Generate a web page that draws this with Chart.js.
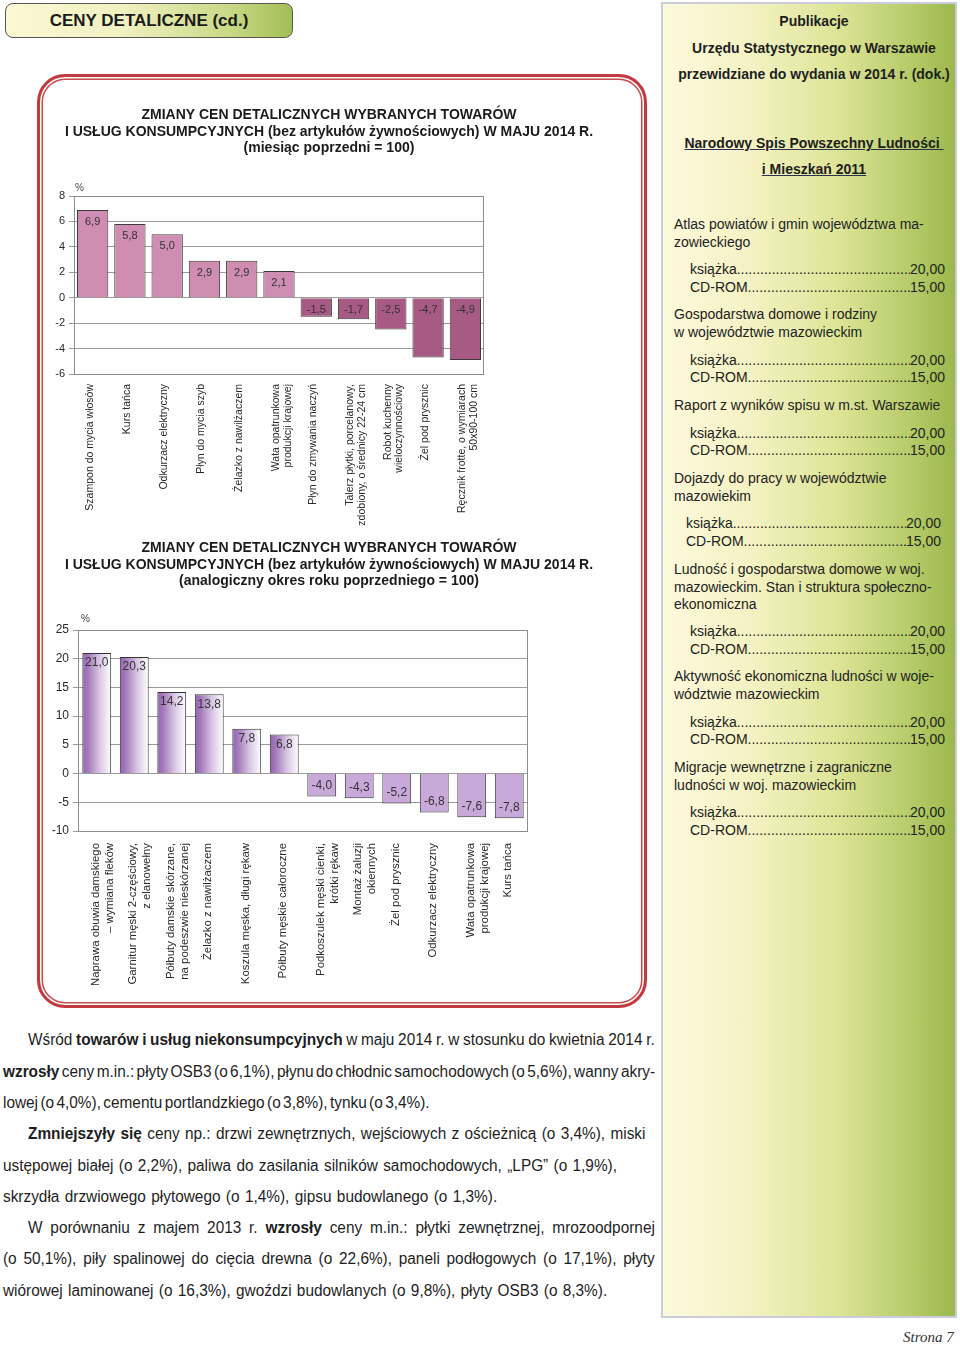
<!DOCTYPE html>
<html lang="pl">
<head>
<meta charset="utf-8">
<title>Ceny detaliczne (cd.)</title>
<script src="https://cdn.jsdelivr.net/npm/chart.js@4.4.1/dist/chart.umd.min.js"></script>
<style>
  html, body { margin: 0; padding: 0; }
  body {
    width: 960px; height: 1345px; position: relative; overflow: hidden;
    background: #fff; color: #222;
    font-family: Arial, "Liberation Sans", sans-serif;
  }
  .naglowek {
    position: absolute; left: 5px; top: 3px; width: 286px; height: 33px;
    border: 1px solid #555; border-radius: 8px;
    background: linear-gradient(to right, #fbf8d4 0%, #f1f1c2 40%, #c9d986 78%, #a3be55 100%);
    font-weight: bold; font-size: 17px; line-height: 33px; text-align: center; color: #1b1b1b;
  }
  .ramka {
    position: absolute; left: 37px; top: 74px; width: 604px; height: 928px;
    border: 3px solid #c23a3e; border-radius: 28px;
    box-shadow: inset 0 0 0 1.5px #fff, inset 0 0 0 3px #c9494c;
  }
  canvas { position: absolute; }
  #wykres1 { left: 39px; top: 100px; }
  #wykres2 { left: 39px; top: 533px; }

  .panel {
    position: absolute; left: 661px; top: 2px; width: 292px; height: 1312px;
    border: 2px solid #c9cdd9;
    background: linear-gradient(to right, #fdf9dc 0%, #f4f2c3 30%, #dde496 60%, #b6cb69 85%, #9cb84c 100%);
  }
  .panel-tytul {
    position: absolute; left: 671px; width: 286px; text-align: center;
    font-weight: bold; font-size: 14px; line-height: 18px; color: #1e1e1e; white-space: nowrap;
  }
  .panel-tytul u { text-decoration-color: #2b3050; }
  .pozycja {
    position: absolute; left: 674px; font-size: 14px; line-height: 17.5px; color: #222; white-space: nowrap;
  }
  .cena {
    position: absolute; left: 690px; width: 255px; display: flex;
    font-size: 14px; line-height: 17.5px; color: #222; white-space: nowrap;
  }
  .cena .kropki { flex: 1; overflow: hidden; }
  .cena .kropki::before { content: "........................................................................................................"; }

  .akapit {
    position: absolute; height: 20px; line-height: 20px; white-space: nowrap;
    font-family: "Liberation Sans", Arial, sans-serif;
    font-size: 16px; color: #1e1e1e;
    transform-origin: 0 50%;
  }
  .strona {
    position: absolute; left: 903px; top: 1329px;
    font-family: "Liberation Serif", "DejaVu Serif", serif; font-style: italic; font-size: 15px; color: #333;
  }
</style>
</head>
<body>

<div class="naglowek">CENY DETALICZNE (cd.)</div>

<div class="ramka"></div>
<canvas id="wykres1" width="580" height="430"></canvas>
<canvas id="wykres2" width="580" height="462"></canvas>

<div class="panel"></div>
<div class="panel-tytul" style="top:12px">Publikacje</div>
<div class="panel-tytul" style="top:39px">Urzędu Statystycznego w Warszawie</div>
<div class="panel-tytul" style="top:65px">przewidziane do wydania w 2014 r. (dok.)</div>
<div class="panel-tytul" style="top:134px"><u>Narodowy Spis Powszechny Ludności&nbsp;</u></div>
<div class="panel-tytul" style="top:160px"><u>i Mieszkań 2011</u></div>

<div class="pozycja" style="top:216px">Atlas powiatów i gmin województwa ma-<br>zowieckiego</div>
<div class="cena" style="top:261px"><span>książka</span><span class="kropki"></span><span>20,00</span></div>
<div class="cena" style="top:279px"><span>CD-ROM</span><span class="kropki"></span><span>15,00</span></div>

<div class="pozycja" style="top:306px">Gospodarstwa domowe i rodziny<br>w województwie mazowieckim</div>
<div class="cena" style="top:352px"><span>książka</span><span class="kropki"></span><span>20,00</span></div>
<div class="cena" style="top:369px"><span>CD-ROM</span><span class="kropki"></span><span>15,00</span></div>

<div class="pozycja" style="top:397px">Raport z wyników spisu w m.st. Warszawie</div>
<div class="cena" style="top:425px"><span>książka</span><span class="kropki"></span><span>20,00</span></div>
<div class="cena" style="top:442px"><span>CD-ROM</span><span class="kropki"></span><span>15,00</span></div>

<div class="pozycja" style="top:470px">Dojazdy do pracy w województwie<br>mazowiekim</div>
<div class="cena" style="top:515px;left:686px"><span>książka</span><span class="kropki"></span><span>20,00</span></div>
<div class="cena" style="top:533px;left:686px"><span>CD-ROM</span><span class="kropki"></span><span>15,00</span></div>

<div class="pozycja" style="top:561px">Ludność i gospodarstwa domowe w woj.<br>mazowieckim. Stan i struktura społeczno-<br>ekonomiczna</div>
<div class="cena" style="top:623px"><span>książka</span><span class="kropki"></span><span>20,00</span></div>
<div class="cena" style="top:641px"><span>CD-ROM</span><span class="kropki"></span><span>15,00</span></div>

<div class="pozycja" style="top:668px">Aktywność ekonomiczna ludności w woje-<br>wództwie mazowieckim</div>
<div class="cena" style="top:714px"><span>książka</span><span class="kropki"></span><span>20,00</span></div>
<div class="cena" style="top:731px"><span>CD-ROM</span><span class="kropki"></span><span>15,00</span></div>

<div class="pozycja" style="top:759px">Migracje wewnętrzne i zagraniczne<br>ludności w woj. mazowieckim</div>
<div class="cena" style="top:804px"><span>książka</span><span class="kropki"></span><span>20,00</span></div>
<div class="cena" style="top:822px"><span>CD-ROM</span><span class="kropki"></span><span>15,00</span></div>

<!-- tekst pod wykresami; data-w = szerokosc linii w oryginale, data-k = koniec akapitu -->
<div class="akapit" data-w="627" style="left:28px;top:1030px">Wśród <b>towarów i usług niekonsumpcyjnych</b> w maju 2014 r. w stosunku do kwietnia 2014 r.</div>
<div class="akapit" data-w="652" style="left:3px;top:1062px"><b>wzrosły</b> ceny m.in.: płyty OSB3 (o 6,1%), płynu do chłodnic samochodowych (o 5,6%), wanny akry-</div>
<div class="akapit" data-w="427" data-k="1" style="left:3px;top:1093px">lowej (o 4,0%), cementu portlandzkiego (o 3,8%), tynku (o 3,4%).</div>
<div class="akapit" data-w="617" style="left:28px;top:1124px"><b>Zmniejszyły się</b> ceny np.: drzwi zewnętrznych, wejściowych z ościeżnicą (o 3,4%), miski</div>
<div class="akapit" data-w="614" style="left:3px;top:1156px">ustępowej białej (o 2,2%), paliwa do zasilania silników samochodowych, „LPG” (o 1,9%),</div>
<div class="akapit" data-w="494" data-k="1" style="left:3px;top:1187px">skrzydła drzwiowego płytowego (o 1,4%), gipsu budowlanego (o 1,3%).</div>
<div class="akapit" data-w="627" style="left:28px;top:1218px">W porównaniu z majem 2013 r. <b>wzrosły</b> ceny m.in.: płytki zewnętrznej, mrozoodpornej</div>
<div class="akapit" data-w="652" style="left:3px;top:1249px">(o 50,1%), piły spalinowej do cięcia drewna (o 22,6%), paneli podłogowych (o 17,1%), płyty</div>
<div class="akapit" data-w="604" data-k="1" style="left:3px;top:1281px">wiórowej laminowanej (o 16,3%), gwoździ budowlanych (o 9,8%), płyty OSB3 (o 8,3%).</div>

<div class="strona">Strona 7</div>

<script>
// Wykres 1: miesiac poprzedni = 100
const tytul1 = [
    'ZMIANY CEN DETALICZNYCH WYBRANYCH TOWARÓW',
    'I USŁUG KONSUMPCYJNYCH (bez artykułów żywnościowych) W MAJU 2014 R.',
    '(miesiąc poprzedni = 100)'
];
const kategorie1 = [
    'Szampon do mycia włosów',
    'Kurs tańca',
    'Odkurzacz elektryczny',
    'Płyn do mycia szyb',
    'Żelazko z nawilżaczem',
    ['Wata opatrunkowa', 'produkcji krajowej'],
    'Płyn do zmywania naczyń',
    ['Talerz płytki, porcelanowy,', 'zdobiony, o średnicy 22-24 cm'],
    ['Robot kuchenny', 'wieloczynnościowy'],
    'Żel pod prysznic',
    ['Ręcznik frotte, o wymiarach', '50x90-100 cm']
];
const wartosci1 = [6.9, 5.8, 5.0, 2.9, 2.9, 2.1, -1.5, -1.7, -2.5, -4.7, -4.9];
const podzialka1 = [-6, -4, -2, 0, 2, 4, 6, 8];

// Wykres 2: analogiczny okres roku poprzedniego = 100
const tytul2 = [
    'ZMIANY CEN DETALICZNYCH WYBRANYCH TOWARÓW',
    'I USŁUG KONSUMPCYJNYCH (bez artykułów żywnościowych) W MAJU 2014 R.',
    '(analogiczny okres roku poprzedniego = 100)'
];
const kategorie2 = [
    ['Naprawa obuwia damskiego', '– wymiana fleków'],
    ['Garnitur męski 2-częściowy,', 'z elanowełny'],
    ['Półbuty damskie skórzane,', 'na podeszwie nieskórzanej'],
    'Żelazko z nawilżaczem',
    'Koszula męska, długi rękaw',
    'Półbuty męskie całoroczne',
    ['Podkoszulek męski cienki,', 'krótki rękaw'],
    ['Montaż żaluzji', 'okiennych'],
    'Żel pod prysznic',
    'Odkurzacz elektryczny',
    ['Wata opatrunkowa', 'produkcji krajowej'],
    'Kurs tańca'
];
const wartosci2 = [21.0, 20.3, 14.2, 13.8, 7.8, 6.8, -4.0, -4.3, -5.2, -6.8, -7.6, -7.8];
const podzialka2 = [-10, -5, 0, 5, 10, 15, 20, 25];

// ramka obszaru wykresu i znak % nad osia
const ramkaObszaru = {
    id: 'ramkaObszaru',
    beforeDatasetsDraw(chart, args, opts) {
        const a = chart.chartArea;
        const ctx = chart.ctx;
        ctx.save();
        ctx.strokeStyle = '#8c8c8c';
        ctx.lineWidth = 1;
        ctx.strokeRect(Math.round(a.left) + 0.5, Math.round(a.top) + 0.5,
            Math.round(a.right - a.left) - 1, Math.round(a.bottom - a.top));
        ctx.fillStyle = '#444';
        ctx.font = '10px Arial';
        ctx.textBaseline = 'middle';
        ctx.fillText('%', a.left + opts.dx, a.top + opts.dy);
        ctx.restore();
    }
};

// wartosci wpisane w slupki
const etykietyWartosci = {
    id: 'etykietyWartosci',
    afterDatasetsDraw(chart, args, opts) {
        const ctx = chart.ctx;
        const meta = chart.getDatasetMeta(0);
        const dane = chart.data.datasets[0].data;
        ctx.save();
        ctx.font = opts.font;
        ctx.fillStyle = '#333';
        ctx.textAlign = 'center';
        ctx.textBaseline = 'middle';
        meta.data.forEach(function (el, i) {
            const v = dane[i];
            let y;
            if (v >= 0) {
                y = el.y + opts.odstep;
            } else if (opts.przyZerze) {
                y = el.base + opts.odstep;
            } else {
                y = el.y - opts.odstepUjemny;
            }
            ctx.fillText(v.toFixed(1).replace('.', ','), el.x, y);
        });
        ctx.restore();
    }
};

// osie; pusta os po prawej robi miejsce bez zwezania tytulu
function opcjeOsi(podzialka, szerOsiY, szerPrawa, wysOsiX, fontY, fontX, wysLinii, przesuniecie, odstepX) {
    return {
        x: {
            grid: { display: false, drawTicks: false },
            border: { display: false },
            ticks: {
                autoSkip: false,
                minRotation: 90,
                maxRotation: 90,
                padding: odstepX,
                labelOffset: przesuniecie,
                color: '#2a2a2a',
                font: { family: 'Arial', size: fontX, lineHeight: wysLinii }
            },
            afterFit: function (s) { s.height = wysOsiX; }
        },
        y: {
            min: podzialka[0],
            max: podzialka[podzialka.length - 1],
            grid: { color: '#9b9b9b', lineWidth: 1, tickLength: 5 },
            border: { display: false },
            ticks: {
                stepSize: podzialka[1] - podzialka[0],
                padding: 4,
                color: '#2a2a2a',
                font: { family: 'Arial', size: fontY },
                callback: function (v) { return String(v); }
            },
            afterFit: function (s) { s.width = szerOsiY; }
        },
        prawa: {
            type: 'linear',
            position: 'right',
            grid: { display: false, drawTicks: false },
            border: { display: false },
            ticks: { display: false },
            afterFit: function (s) { s.width = szerPrawa; }
        }
    };
}

// Wykres 1
new Chart(document.getElementById('wykres1'), {
    type: 'bar',
    data: {
        labels: kategorie1,
        datasets: [{
            data: wartosci1,
            backgroundColor: wartosci1.map(function (v) { return v >= 0 ? '#cf8db1' : '#a65a84'; }),
            borderColor: '#3c3c3c',
            borderWidth: 1,
            categoryPercentage: 1,
            barPercentage: 0.84
        }]
    },
    options: {
        responsive: false,
        animation: false,
        layout: { padding: 0 },
        scales: opcjeOsi(podzialka1, 35, 135, 156, 11, 10.5, 1.12, -3, 10),
        plugins: {
            legend: { display: false },
            tooltip: { enabled: false },
            title: {
                display: true,
                text: tytul1,
                color: '#1b1b1b',
                font: { family: 'Arial', size: 14, weight: 'bold', lineHeight: 1.2 },
                padding: { top: 6.6, bottom: 39 }
            },
            ramkaObszaru: { dx: 1, dy: -8 },
            etykietyWartosci: { font: '11px Arial', odstep: 12, przyZerze: true }
        }
    },
    plugins: [ramkaObszaru, etykietyWartosci]
});

// Wykres 2 - slupki dodatnie z gradientem
function kolorSlupka2(c) {
    const v = wartosci2[c.dataIndex];
    if (v < 0) return '#c9a9da';
    const chart = c.chart;
    const x = chart.scales.x;
    if (!x || !chart.chartArea) return '#b592c9';
    const srodek = x.getPixelForValue(c.dataIndex);
    const szer = (x.width / kategorie2.length) * 0.77;
    const g = chart.ctx.createLinearGradient(srodek - szer / 2, 0, srodek + szer / 2, 0);
    g.addColorStop(0, '#9563b0');
    g.addColorStop(0.2, '#a37abc');
    g.addColorStop(0.6, '#d9c6e3');
    g.addColorStop(1, '#ffffff');
    return g;
}

new Chart(document.getElementById('wykres2'), {
    type: 'bar',
    data: {
        labels: kategorie2,
        datasets: [{
            data: wartosci2,
            backgroundColor: kolorSlupka2,
            borderColor: '#333',
            borderWidth: 1,
            categoryPercentage: 1,
            barPercentage: 0.77
        }]
    },
    options: {
        responsive: false,
        animation: false,
        layout: { padding: 0 },
        scales: opcjeOsi(podzialka2, 39, 91, 164, 12, 11.4, 1.2, -1, 12),
        plugins: {
            legend: { display: false },
            tooltip: { enabled: false },
            title: {
                display: true,
                text: tytul2,
                color: '#1b1b1b',
                font: { family: 'Arial', size: 14, weight: 'bold', lineHeight: 1.2 },
                padding: { top: 6.6, bottom: 40 }
            },
            ramkaObszaru: { dx: 3, dy: -11 },
            etykietyWartosci: { font: '12px Arial', odstep: 10, przyZerze: false, odstepUjemny: 11 }
        }
    },
    plugins: [ramkaObszaru, etykietyWartosci]
});

// tekst pod wykresami: Arial zwezony tak, by konce akapitow wypadaly jak w oryginale,
// pozostale linie wyjustowane odstepami miedzy slowami
function dopasujLinie() {
    const linie = Array.from(document.querySelectorAll('.akapit'));
    linie.forEach(function (el) {
        el.style.wordSpacing = '0px';
        el.style.transform = 'none';
    });
    const konce = linie.filter(function (el) { return el.dataset.k; });
    let suma = 0;
    konce.forEach(function (el) { suma += parseFloat(el.dataset.w) / el.scrollWidth; });
    const skala = suma / konce.length;
    linie.forEach(function (el) {
        const cel = parseFloat(el.dataset.w) / skala;
        const szer = el.scrollWidth;
        const spacje = (el.textContent.match(/ /g) || []).length;
        el.style.transform = 'scaleX(' + skala + ')';
        if (spacje > 0) {
            el.style.wordSpacing = ((cel - szer) / spacje) + 'px';
        }
    });
}
dopasujLinie();
if (document.fonts && document.fonts.ready) {
    document.fonts.ready.then(dopasujLinie);
}
</script>
</body>
</html>
